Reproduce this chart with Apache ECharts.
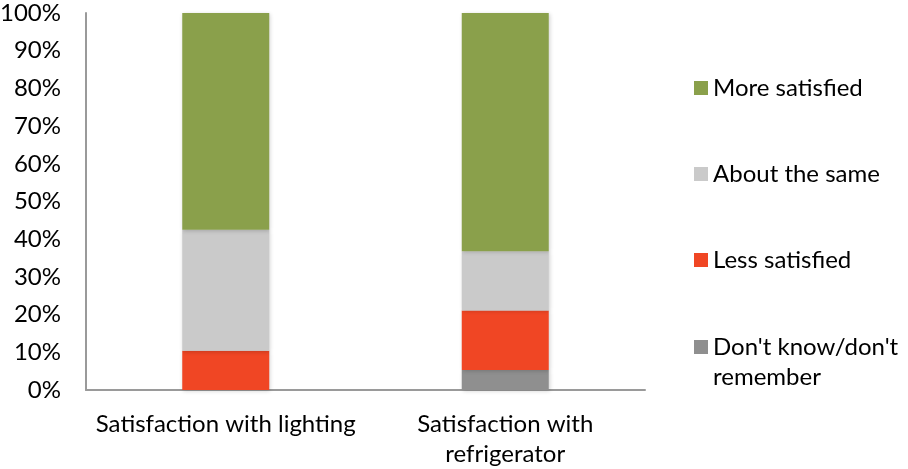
<!DOCTYPE html>
<html>
<head>
<meta charset="utf-8">
<script src="https://cdn.jsdelivr.net/npm/echarts@6/dist/echarts.min.js"></script>
<style>
  html, body { margin: 0; padding: 0; background: #ffffff; }
  #chart { width: 908px; height: 469px; }
</style>
</head>
<body>
<div id="chart"></div>
<script>
// Survey categories (x axis)
const categories = ['Satisfaction with lighting', 'Satisfaction with\nrefrigerator'];

// Stacked shares, in percent, bottom to top
const dontKnow = [0, 5.3];
const lessSatisfied = [10.4, 15.8];
const aboutSame = [32.1, 15.7];
const moreSatisfied = [57.5, 63.2];

// Y axis tick labels
const yTicks = ['0%', '10%', '20%', '30%', '40%', '50%', '60%', '70%', '80%', '90%', '100%'];

// Legend entries, top to bottom
const legendNames = ['More satisfied', 'About the same', 'Less satisfied', "Don't know/don't\nremember"];

const FONT = 'Lato, "Open Sans", sans-serif';
const FS = 24;
const colors = {
  more: '#8aa04b',
  same: '#cacaca',
  less: '#f04624',
  dk: '#8f8f8f'
};

const barStyle = (c) => ({
  color: c,
  shadowColor: 'rgba(0,0,0,0.18)',
  shadowBlur: 4,
  shadowOffsetX: 1,
  shadowOffsetY: 1
});

const legendBase = {
  orient: 'vertical',
  left: 694,
  padding: 0,
  itemWidth: 14,
  itemHeight: 14,
  itemGap: 56,
  icon: 'rect',
  selectedMode: false,
  textStyle: { fontFamily: FONT, fontSize: FS, color: '#000', lineHeight: 30 }
};

const chart = echarts.init(document.getElementById('chart'), null, { renderer: 'canvas' });

chart.setOption({
  animation: false,
  grid: { left: 86, right: 263, top: 13, bottom: 79, containLabel: false, outerBoundsMode: 'none' },
  legend: [
    Object.assign({}, legendBase, { top: 73, data: legendNames.slice(0, 3) }),
    // two-line entry: a blank first line keeps the swatch level with "Don't know/don't"
    Object.assign({}, legendBase, {
      top: 302,
      data: [legendNames[3]],
      formatter: (name) => '\n' + name
    })
  ],
  xAxis: {
    type: 'category',
    data: categories,
    axisLine: { lineStyle: { color: '#9a9a9a', width: 2 } },
    axisTick: { show: false },
    axisLabel: { fontFamily: FONT, fontSize: FS, color: '#000', margin: 19, lineHeight: 30, interval: 0 }
  },
  yAxis: {
    type: 'value',
    min: 0,
    max: 100,
    interval: 10,
    axisLine: { show: true, lineStyle: { color: '#9a9a9a', width: 2 } },
    axisTick: { show: false },
    splitLine: { show: false },
    axisLabel: {
      fontFamily: FONT, fontSize: FS, color: '#000', margin: 25,
      formatter: (v) => yTicks[Math.round(v / 10)]
    }
  },
  series: [
    { name: legendNames[3], type: 'bar', stack: 's', barWidth: 87, data: dontKnow, itemStyle: barStyle(colors.dk) },
    { name: legendNames[2], type: 'bar', stack: 's', barWidth: 87, data: lessSatisfied, itemStyle: barStyle(colors.less) },
    { name: legendNames[1], type: 'bar', stack: 's', barWidth: 87, data: aboutSame, itemStyle: barStyle(colors.same) },
    { name: legendNames[0], type: 'bar', stack: 's', barWidth: 87, data: moreSatisfied, itemStyle: barStyle(colors.more) }
  ]
});
</script>
</body>
</html>
